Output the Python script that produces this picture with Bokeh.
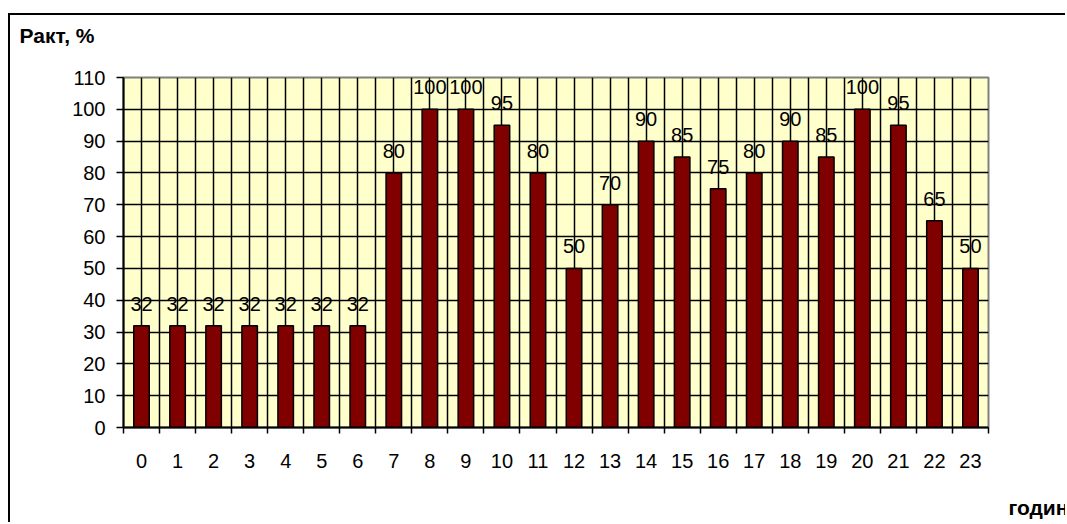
from bokeh.plotting import figure
from bokeh.models import Range1d, FixedTicker, ColumnDataSource, LabelSet, Title
from bokeh.core.properties import value
from bokeh.embed import file_html
from bokeh.resources import INLINE

hours = list(range(24))
values = [32, 32, 32, 32, 32, 32, 32, 80, 100, 100, 95, 80, 50, 70, 90, 85, 75, 80, 90, 85, 100, 95, 65, 50]
y_ticks = list(range(0, 111, 10))
y_title = "Ракт, %"
x_title = "години"

centers = [h + 0.5 for h in hours]
src = ColumnDataSource(dict(x=centers, top=values, label=[str(v) for v in values]))

W, H = 1057, 509
p = figure(width=W, height=H, output_backend="svg", toolbar_location=None,
           x_range=Range1d(0, 24), y_range=Range1d(0, 110),
           min_border_left=113, min_border_right=79, min_border_top=62, min_border_bottom=97)
p.title.visible = False
p.background_fill_color = "#FFFFCC"
p.border_fill_color = "white"
p.outline_line_color = "#808080"
p.outline_line_width = 2

FONT = "Liberation Sans"
FS = "20px"

# grids
p.xgrid.ticker = FixedTicker(ticks=[i * 0.5 for i in range(1, 48)])
p.xgrid.grid_line_color = "black"
p.xgrid.grid_line_width = 1.5
p.ygrid.ticker = FixedTicker(ticks=y_ticks[1:-1])
p.ygrid.grid_line_color = "black"
p.ygrid.grid_line_width = 1.5

# x axis
xa = p.xaxis[0]
xa.ticker = FixedTicker(ticks=centers, minor_ticks=list(range(0, 25)))
xa.major_label_overrides = {c: str(h) for c, h in zip(centers, hours)}
xa.major_tick_line_color = None
xa.major_tick_out = 0
xa.major_tick_in = 0
xa.minor_tick_line_color = "black"
xa.minor_tick_line_width = 1.5
xa.minor_tick_out = 6
xa.minor_tick_in = 0
xa.axis_line_color = "black"
xa.axis_line_width = 2
xa.major_label_standoff = 20
xa.major_label_text_font = FONT
xa.major_label_text_font_size = FS
xa.major_label_text_color = "black"

ya = p.yaxis[0]
ya.ticker = FixedTicker(ticks=y_ticks)
ya.minor_tick_line_color = None
ya.major_tick_line_color = "black"
ya.major_tick_line_width = 1.5
ya.major_tick_out = 7
ya.major_tick_in = 0
ya.axis_line_color = "black"
ya.axis_line_width = 2
ya.major_label_standoff = 11
ya.major_label_text_font = FONT
ya.major_label_text_font_size = FS
ya.major_label_text_color = "black"

p.vbar(x="x", top="top", bottom=0, width=0.43, source=src,
       fill_color="#800000", line_color="black", line_width=1.5)

labels = LabelSet(x="x", y="top", text="label", source=src, text_align="center",
                  text_baseline="alphabetic", y_offset=15, text_font=value(FONT),
                  text_font_size=FS, text_color="black")
p.add_layout(labels)

# white spacer panels so the axis titles sit where the reference has them
p.add_layout(Title(text=".", text_font_size="1px", standoff=28, text_color="white"), "above")
p.add_layout(Title(text=y_title, align="left", offset=-104, standoff=0,
                   text_font=FONT, text_font_style="bold", text_font_size="21px",
                   text_color="black"), "above")
p.add_layout(Title(text=".", text_font_size="1px", standoff=20, text_color="white"), "below")
p.add_layout(Title(text=x_title, align="left", offset=885, standoff=0,
                   text_font=FONT, text_font_style="bold", text_font_size="21px",
                   text_color="black"), "below")

# outer chart border (left and top edges visible)
p.styles = {"border-left": "2px solid black", "border-top": "2px solid black",
            "margin-left": "8px", "margin-top": "13px"}

open("out.html", "w").write(file_html(p, INLINE))
